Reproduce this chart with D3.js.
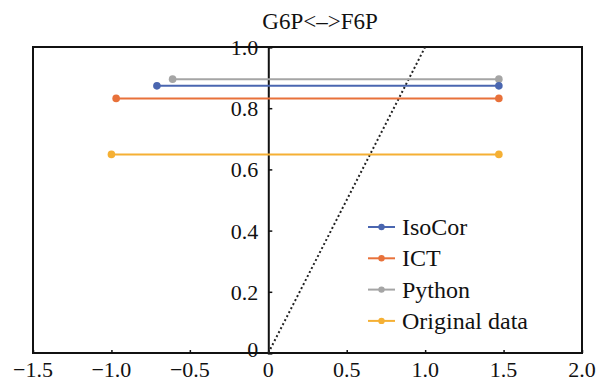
<!DOCTYPE html>
<html>
<head>
<meta charset="utf-8">
<script src="https://cdn.jsdelivr.net/npm/d3@7"></script>
<style>
  body { margin: 0; background: #fff; }
  text { font-family: "Liberation Serif", "Times New Roman", serif; fill: #111; }
</style>
</head>
<body>
<div id="chart"></div>
<script>
// Chart data
var seriesNames = ["IsoCor", "ICT", "Python", "Original data"];
var seriesColors = ["#4a66b0", "#e8713a", "#a5a5a5", "#f5b034"];
var startX = [-0.71, -0.97, -0.61, -1.0];
var endX = [1.47, 1.47, 1.47, 1.47];
var yValues = [0.873, 0.832, 0.895, 0.649];
var xTicks = [-1.5, -1.0, -0.5, 0, 0.5, 1.0, 1.5, 2.0];
var yTicks = [0, 0.2, 0.4, 0.6, 0.8, 1.0];
var diagonal = [[0, 0], [1, 1]];

var svgWidth = 598;
var svgHeight = 383;
var margin = { top: 47, right: 16, bottom: 30, left: 33 };
var width = svgWidth - margin.left - margin.right;
var height = svgHeight - margin.top - margin.bottom;

var svg = d3.select("#chart")
  .append("svg")
  .attr("width", svgWidth)
  .attr("height", svgHeight);

var chartGroup = svg.append("g")
  .attr("transform", `translate(${margin.left}, ${margin.top})`);

var xScale = d3.scaleLinear().domain([-1.5, 2.0]).range([0, width]);
var yScale = d3.scaleLinear().domain([0, 1.0]).range([height, 0]);

var fmt = d => d === 0 ? "0" : d3.format(".1f")(d).replace("-", "\u2212");

// Frame
chartGroup.append("rect")
  .attr("width", width)
  .attr("height", height)
  .attr("fill", "none")
  .attr("stroke", "#111")
  .attr("stroke-width", 2);

// x axis with inward ticks
var xAxis = chartGroup.append("g")
  .attr("transform", `translate(0, ${height})`)
  .call(d3.axisTop(xScale).tickValues(xTicks).tickSize(3).tickFormat(""));
xAxis.select(".domain").remove();
xAxis.selectAll("line").attr("stroke", "#111").attr("stroke-width", 1.5);

chartGroup.append("g")
  .selectAll("text")
  .data(xTicks)
  .enter()
  .append("text")
  .attr("x", d => xScale(d))
  .attr("y", height + 24)
  .attr("text-anchor", "middle")
  .style("font-size", "22px")
  .text(fmt);

// y axis at x = 0
var yAxis = chartGroup.append("g")
  .attr("transform", `translate(${xScale(0)}, 0)`)
  .call(d3.axisRight(yScale).tickValues(yTicks).tickSize(4).tickFormat(""));
yAxis.select(".domain").attr("stroke", "#111").attr("stroke-width", 2);
yAxis.selectAll("line").attr("stroke", "#111").attr("stroke-width", 1.5);

chartGroup.append("g")
  .selectAll("text")
  .data(yTicks)
  .enter()
  .append("text")
  .attr("x", xScale(0) - 10)
  .attr("y", d => yScale(d) + (d === 0 ? 4 : 8))
  .attr("text-anchor", "end")
  .style("font-size", "22px")
  .text(fmt);

// dotted y = x line
chartGroup.append("path")
  .datum(diagonal)
  .attr("d", d3.line().x(d => xScale(d[0])).y(d => yScale(d[1])))
  .attr("stroke", "#222")
  .attr("stroke-width", 2)
  .attr("stroke-dasharray", "2,2.5")
  .attr("fill", "none");

// series lines (drawn bottom to top)
var order = [3, 1, 2, 0];
order.forEach(function (i) {
  var g = chartGroup.append("g");
  g.append("line")
    .attr("x1", xScale(startX[i]))
    .attr("x2", xScale(endX[i]))
    .attr("y1", yScale(yValues[i]))
    .attr("y2", yScale(yValues[i]))
    .attr("stroke", seriesColors[i])
    .attr("stroke-width", 2);
  g.selectAll("circle")
    .data([startX[i], endX[i]])
    .enter()
    .append("circle")
    .attr("cx", d => xScale(d))
    .attr("cy", yScale(yValues[i]))
    .attr("r", 3.8)
    .attr("fill", seriesColors[i]);
});

// Title
svg.append("text")
  .attr("x", 320)
  .attr("y", 29)
  .attr("text-anchor", "middle")
  .style("font-size", "23px")
  .text("G6P<\u2013>F6P");

// Legend
var legend = svg.append("g").attr("transform", "translate(368, 227)");
seriesNames.forEach(function (name, i) {
  var row = legend.append("g").attr("transform", `translate(0, ${i * 31.3})`);
  row.append("line")
    .attr("x1", 0).attr("x2", 27)
    .attr("stroke", seriesColors[i])
    .attr("stroke-width", 2);
  row.append("circle")
    .attr("cx", 13.5).attr("r", 3.2)
    .attr("fill", seriesColors[i]);
  row.append("text")
    .attr("x", 34)
    .attr("y", 8)
    .style("font-size", "24px")
    .text(name);
});
</script>
</body>
</html>
